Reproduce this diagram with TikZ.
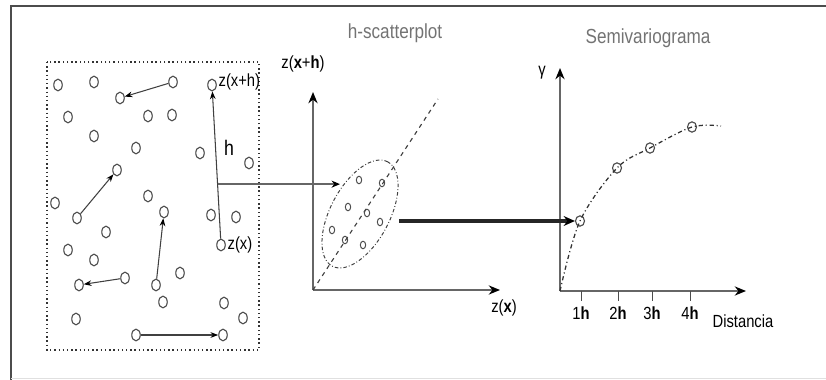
\documentclass[tikz,border=0pt]{standalone}
\usepackage{fontspec}
\setmainfont{Liberation Sans}[FakeStretch=0.84]
\usetikzlibrary{arrows.meta, shapes.geometric}

\begin{document}
\begin{tikzpicture}[
    x=0.025cm, y=-0.025cm,
    font=\fontsize{12.5}{14}\selectfont,
    >=Stealth,
    pt/.style={ellipse, draw=black!70, line width=0.8pt, minimum width=6pt, minimum height=8.3pt, inner sep=0pt},
    spt/.style={ellipse, draw=black!70, line width=0.7pt, minimum width=3.8pt, minimum height=5.4pt, inner sep=0pt},
    vpt/.style={ellipse, draw=black!70, line width=0.8pt, minimum width=6.4pt, minimum height=7.4pt, inner sep=0pt},
    cloud/.style={ellipse, draw=black!75, line width=0.7pt, dash pattern=on 2.5pt off 1.5pt on 0.6pt off 1.5pt, minimum width=84pt, minimum height=42pt},
    title/.style={font=\fontsize{14.5}{16}\selectfont, text=black!55},
    link/.style={->, line width=0.75pt, draw=black!75, >={Stealth[length=5.5pt, width=4pt, black]}},
    feed/.style={->, line width=1.3pt, draw=black!60, >={Stealth[length=6pt, width=5pt, black]}},
    axis/.style={->, line width=1.3pt, draw=black!60, >={Stealth[length=8pt, width=6.5pt, black]}},
    big/.style={->, line width=2.2pt, draw=black!85, >={Stealth[length=8pt, width=7pt, black]}},
    curve/.style={line width=0.9pt, draw=black!80, dash pattern=on 3pt off 2pt on 0.8pt off 2pt}
]
\useasboundingbox (0,0) rectangle (826,380);

% Frame
\draw[black!70, line width=1.5pt] (11,380) -- (11,6) -- (826,6);
\draw[black!12, line width=0.6pt] (11,378) -- (826,378);

% Sampling area
\draw[black!80, line width=1pt, dotted] (47,62) rectangle (259,350);
\foreach \n/\x/\y in {c1/58/85, c2/94/82, c3/173/82, c4/120/98, zxh/212/85, c5/68/117,
    c6/148/116, c7/172/115, c8/94/136, c9/136/148, c10/200/153, c11/249/163,
    c12/117/170, c13/55/203, c14/148/196, c15/164/212, c16/211/215, c17/236/217,
    zx/221/245, c18/106/232, c19/68/250, c20/94/260, c21/79/285, c22/125/278,
    c23/180/273, c24/156/285, c25/163/302, c26/224/303, c27/243/318, c28/76/319,
    c29/136/335, c30/223/335, c31/77/218}
    \node[pt] (\n) at (\x,\y) {};
\node[anchor=west, inner sep=1pt] (zxhlabel) at (217,82) {z(x+h)};
\node[anchor=west, inner sep=1pt] (zxlabel) at (226,245) {z(x)};
\node[font=\fontsize{15}{16}\selectfont] (hlabel) at (229,148) {h};

% Pairs
\draw[link] (c3) -- (c4);
\draw[link] (c31) -- (c12);
\draw[link] (c24) -- (c15);
\draw[link] (c22) -- (c21);
\draw[link] (c29) -- (c30);
\draw[link] (zx) -- (zxh);
\path (zx) -- (zxh) coordinate[pos=0.37] (hmid);

% h-scatterplot
\node[title] (scattitle) at (395,33) {h-scatterplot};
\coordinate (o1) at (313,290);
\coordinate (y1) at (313,92);
\coordinate (x1) at (500,290);
\coordinate (d1) at (438,99);
\draw[axis] (o1) -- (y1);
\draw[axis] (o1) -- (x1);
\node (zxhaxis) at (303,64) {z(\textbf{x}+\textbf{h})};
\node (zxaxis) at (504,308) {z(\textbf{x})};
\draw[black!75, line width=0.8pt, dashed] (o1) -- (d1);
\node[cloud, rotate=62] (cloud) at (360,214) {};
\foreach \n/\x/\y in {s1/359/180, s2/382/183, s3/348/207, s4/367/213,
    s5/380/222, s6/332/230, s7/345/240, s8/363/245}
    \node[spt] (\n) at (\x,\y) {};
\coordinate (cloudL) at (340,188);
\coordinate (cloudR) at (399,221);
\draw[feed] (hmid) -- (hmid -| cloudL);

% Semivariograma
\node[title] (vartitle) at (648,38) {Semivariograma};
\coordinate (o2) at (560,291);
\coordinate (y2) at (560,68);
\coordinate (x2) at (746,291);
\draw[axis] (o2) -- (y2);
\draw[axis] (o2) -- (x2);
\node (gamma) at (542,73) {γ};
\node (dist) at (743,321) {Distancia};
\node[vpt] (p1) at (580,221) {};
\node[vpt] (p2) at (617,168) {};
\node[vpt] (p3) at (650,148) {};
\node[vpt] (p4) at (692,127) {};
\coordinate (pend) at (721,126);
\draw[curve] plot[smooth, tension=0.55] coordinates {(o2) (p1) (p2) (p3) (p4) (pend)};
\foreach \i/\x in {1/581, 2/618, 3/652, 4/690} {
    \draw[black!70, line width=0.7pt] (\x,291) -- (\x,301);
    \node (tick\i) at (\x,313) {\i\textbf{h}};
}

% Scatter -> semivariogram
\draw[big] (cloudR) -- (p1);
\end{tikzpicture}
\end{document}
